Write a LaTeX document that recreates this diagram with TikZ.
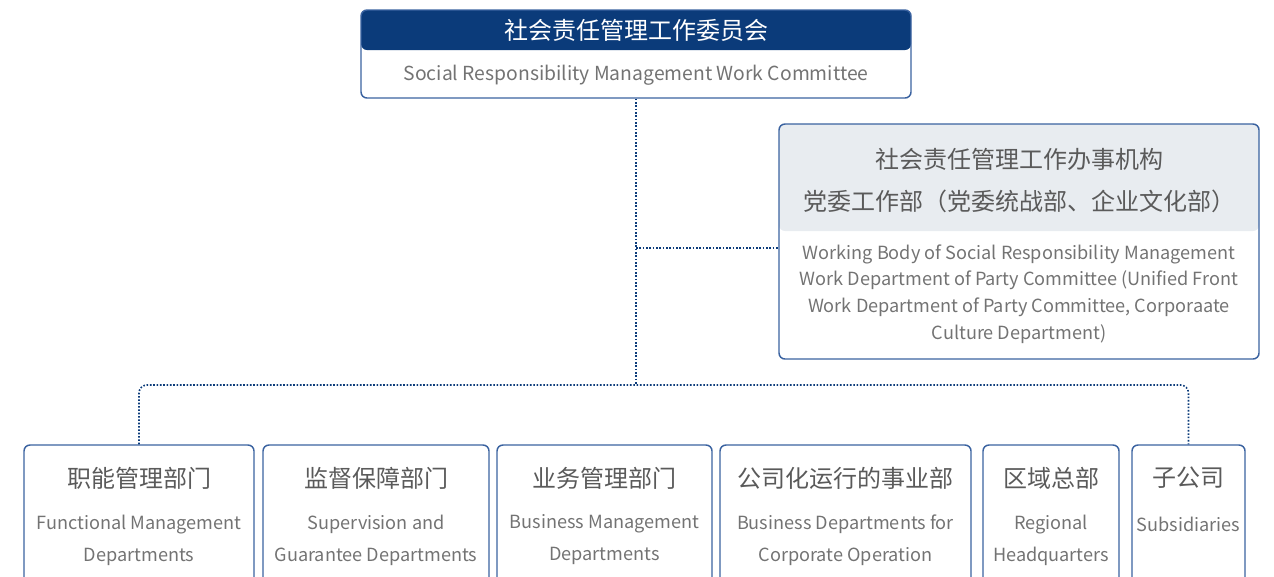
\documentclass[tikz,border=0pt]{standalone}
\usepackage{fontspec}
\setmainfont{Noto Sans CJK SC}
\usetikzlibrary{positioning,fit}
\definecolor{navy}{HTML}{0B3B7A}
\definecolor{edge}{HTML}{3A62A0}
\definecolor{paleg}{HTML}{E8ECF0}
\definecolor{txt}{HTML}{5A5A5A}

\begin{document}
\begin{tikzpicture}[x=0.75pt, y=-0.75pt,
  box/.style = {draw=edge, line width=1.1pt, rounded corners=4.5pt, inner sep=0pt},
  hdr/.style = {rounded corners=4.5pt, inner sep=0pt},
  cn/.style = {text=txt, align=center, font=\fontsize{18}{31.5}\selectfont},
  en/.style = {text=txt!85, align=center, font=\fontsize{13.6}{24}\selectfont},
  link/.style = {draw=navy, line width=1.2pt, dash pattern=on 1.2pt off 1.3pt}
]
  \clip (0,0) rectangle (1274,576);

  % committee
  \node[hdr, fill=navy, fit={(361,10) (911,50)}] (swchd) {};
  \node[box, fit={(361,10) (911,98)}] (swc) {};
  \node[cn, text=white] (swccn) at (636,30) {社会责任管理工作委员会};
  \node[en, font=\fontsize{14.5}{24}\selectfont] (swcen) at (636,75)
    {Social Responsibility Management Work Committee};

  % working body
  \node[hdr, fill=paleg, fit={(779,124) (1259,231)}] (wbhd) {};
  \node[box, fit={(779,124) (1259,359)}] (wb) {};
  \node[cn] (wbcn) at (1019,181) {社会责任管理工作办事机构\\党委工作部（党委统战部、企业文化部）};
  \node[en, font=\fontsize{13.6}{20}\selectfont] (wben) at (1019,294)
    {Working Body of Social Responsibility Management\\Work Department of Party Committee (Unified Front\\Work Department of Party Committee, Corporaate\\Culture Department)};

  % departments
  \node[box, fit={(24,445) (254,620)}] (fun) {};
  \node[box, fit={(263,445) (489,620)}] (sup) {};
  \node[box, fit={(497,445) (712,620)}] (biz) {};
  \node[box, fit={(720,445) (971,620)}] (cop) {};
  \node[box, fit={(983,445) (1119,620)}] (reg) {};
  \node[box, fit={(1132,445) (1245,620)}] (sub) {};

  \node[cn] (funcn) at (139,478) {职能管理部门};
  \node[cn] (supcn) at (376,478) {监督保障部门};
  \node[cn] (bizcn) at (604.5,478) {业务管理部门};
  \node[cn] (copcn) at (845.5,478) {公司化运行的事业部};
  \node[cn] (regcn) at (1051,478) {区域总部};
  \node[cn] (subcn) at (1188.5,478) {子公司};

  \node[en] (funen) at (139,540) {Functional Management\\Departments};
  \node[en] (supen) at (376,540) {Supervision and\\Guarantee Departments};
  \node[en] (bizen) at (604.5,540) {Business Management\\Departments};
  \node[en] (copen) at (845.5,540) {Business Departments for\\Corporate Operation};
  \node[en] (regen) at (1051,540) {Regional\\Headquarters};
  \node[en] (suben) at (1188.5,524) {Subsidiaries};

  % connectors
  \coordinate (hub) at (636,385);
  \draw[link] (swc.south) -- (hub);
  \draw[link] (swc.south |- 0,248) -- (wb.west |- 0,248);
  \draw[link, rounded corners=6pt] (fun.north) -- (fun.north |- hub)
    -- (sub.north |- hub) -- (sub.north);
\end{tikzpicture}
\end{document}
